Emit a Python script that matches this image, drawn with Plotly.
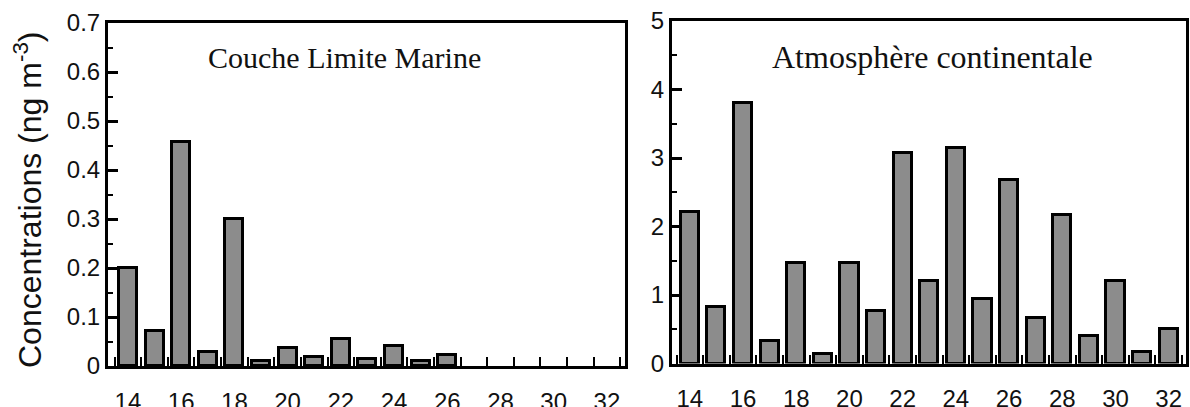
import plotly.graph_objects as go

# Data
categories = list(range(14, 33))
marine = [0.20, 0.072, 0.457, 0.028, 0.30, 0.010, 0.036, 0.018, 0.056, 0.014,
          0.041, 0.010, 0.022, None, None, None, None, None, None]
continental = [2.21, 0.82, 3.81, 0.33, 1.47, 0.14, 1.46, 0.76, 3.08, 1.21,
               3.15, 0.94, 2.68, 0.67, 2.17, 0.40, 1.20, 0.17, 0.50]
xtick_first, xtick_step = 14, 2
panel_titles = ["Couche Limite Marine", "Atmosphère continentale"]
y_title = "Concentrations (ng m<sup>-3</sup>)"

W, H = 1190, 407
bar_fill = "#8c8c8c"
line_col = "#000000"
label_font = dict(family="Liberation Sans, Arial, sans-serif", size=24, color="#111111")

fig = go.Figure()
fig.add_trace(go.Bar(x=categories, y=marine, width=0.68,
                     marker=dict(color=bar_fill, line=dict(color=line_col, width=3)),
                     xaxis="x", yaxis="y", showlegend=False))
fig.add_trace(go.Bar(x=categories, y=continental, width=0.68,
                     marker=dict(color=bar_fill, line=dict(color=line_col, width=3)),
                     xaxis="x2", yaxis="y2", showlegend=False))


def xaxis_cfg(domain, rng, anchor, labels=True, side="bottom", overlay=None):
    d = dict(range=rng, anchor=anchor, automargin=False, side=side,
             tickmode="linear", tick0=xtick_first, dtick=xtick_step,
             ticks="outside", ticklen=12, tickwidth=1, tickcolor="rgba(255,255,255,0)",
             showline=True, linewidth=3, linecolor=line_col, mirror=True,
             showgrid=False, zeroline=False, tickfont=label_font,
             showticklabels=labels,
             minor=dict(tickmode="linear", tick0=categories[0] - 0.5, dtick=1,
                        ticks="inside", ticklen=9, tickwidth=2, tickcolor=line_col,
                        showgrid=False))
    if overlay:
        d["overlaying"] = overlay
    else:
        d["domain"] = domain
    return d


def yaxis_cfg(domain, rng, anchor, dtick, labels=True, side="left", overlay=None):
    d = dict(range=rng, anchor=anchor, automargin=False, side=side,
             tickmode="linear", tick0=0, dtick=dtick,
             ticks="inside", ticklen=10, tickwidth=3, tickcolor=line_col,
             showline=True, linewidth=3, linecolor=line_col, mirror=True,
             showgrid=False, zeroline=False, tickfont=label_font,
             showticklabels=labels,
             minor=dict(tickmode="linear", tick0=0, dtick=dtick / 2, ticks="inside",
                        ticklen=5, tickwidth=2, tickcolor=line_col, showgrid=False))
    if overlay:
        d["overlaying"] = overlay
    else:
        d["domain"] = domain
    return d


dom_x1, dom_x2 = [108 / W, 625 / W], [672 / W, 1186 / W]
dom_y1, dom_y2 = [41 / H, 384 / H], [43.5 / H, 386 / H]
rx1, rx2 = [13.25, 32.68], [13.33, 32.65]

fig.update_layout(
    template="none",
    width=W, height=H,
    margin=dict(l=0, r=0, t=0, b=0, pad=0),
    paper_bgcolor="white", plot_bgcolor="white",
    bargap=0,
    xaxis=xaxis_cfg(dom_x1, rx1, "y"),
    yaxis=yaxis_cfg(dom_y1, [0, 0.7], "x", 0.1),
    xaxis2=xaxis_cfg(dom_x2, rx2, "y2"),
    yaxis2=yaxis_cfg(dom_y2, [0, 5], "x2", 1),
    # mirrored tick axes (top / right)
    xaxis3=xaxis_cfg(dom_x1, rx1, "y", labels=False, side="top", overlay="x"),
    yaxis3=yaxis_cfg(dom_y1, [0, 0.7], "x", 0.1, labels=False, side="right", overlay="y"),
    xaxis4=xaxis_cfg(dom_x2, rx2, "y2", labels=False, side="top", overlay="x2"),
    yaxis4=yaxis_cfg(dom_y2, [0, 5], "x2", 1, labels=False, side="right", overlay="y2"),
    annotations=[
        dict(text=panel_titles[0], x=344 / W, y=(H - 58) / H, xref="paper", yref="paper",
             showarrow=False, xanchor="center", yanchor="middle",
             font=dict(family="Liberation Serif, Times New Roman, serif", size=30, color="#111111")),
        dict(text=panel_titles[1], x=932.5 / W, y=(H - 57) / H, xref="paper", yref="paper",
             showarrow=False, xanchor="center", yanchor="middle",
             font=dict(family="Liberation Serif, Times New Roman, serif", size=32, color="#111111")),
        dict(text=y_title, x=28 / W, y=(H - 200) / H, xref="paper", yref="paper",
             showarrow=False, xanchor="center", yanchor="middle", textangle=-90,
             font=dict(family="Liberation Sans, Arial, sans-serif", size=32, color="#111111")),
    ],
)

fig.write_html("out.html")
